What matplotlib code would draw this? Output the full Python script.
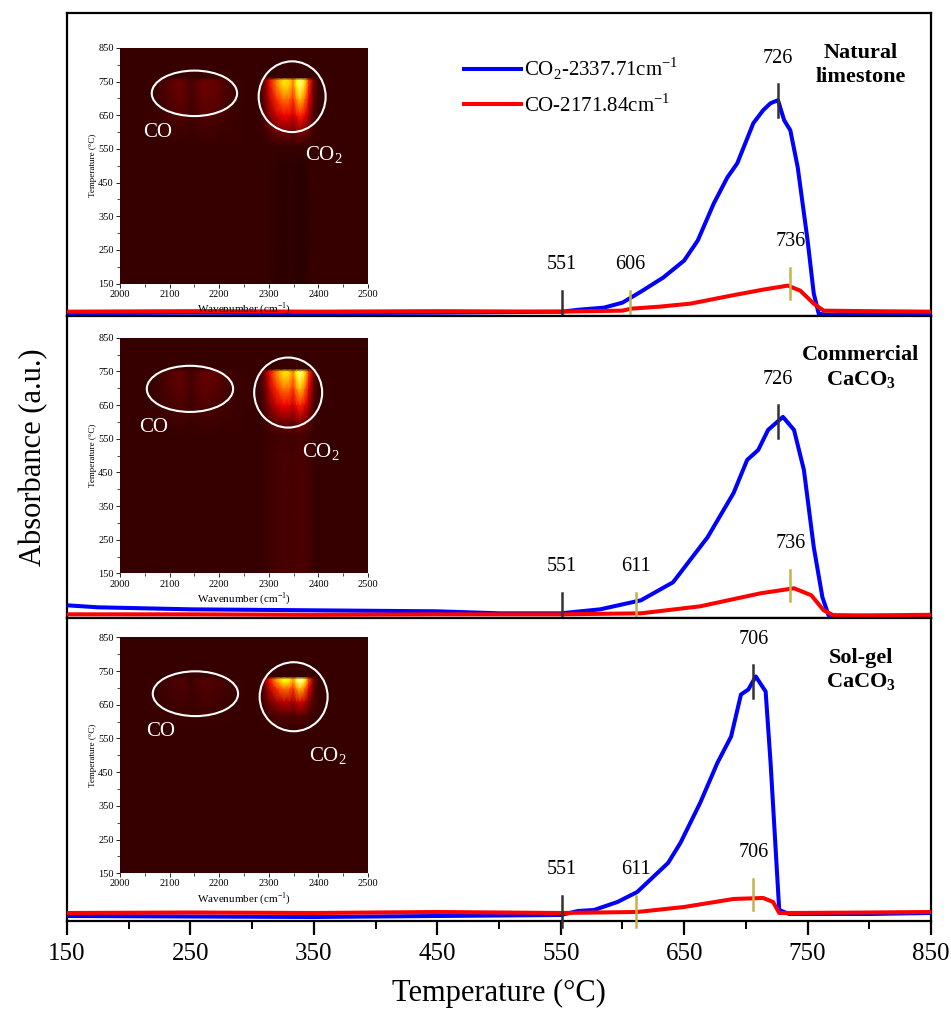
import numpy as np
import matplotlib
matplotlib.use("Agg")
import matplotlib.pyplot as plt
from matplotlib.patches import Ellipse

plt.rcParams['font.family'] = ['Liberation Serif', 'DejaVu Serif']
plt.rcParams['mathtext.fontset'] = 'custom'
plt.rcParams['mathtext.rm'] = 'Liberation Serif'
plt.rcParams['mathtext.bf'] = 'Liberation Serif:bold'

# ---- TG-FTIR gas release curves (a.u.) ----
# Natural limestone
T_co2_nat = [150, 250, 350, 450, 551, 565, 585, 600, 615, 633, 650, 661, 674, 685, 693, 706, 714, 720,
             726, 731, 736, 742, 750, 755, 759, 765, 800, 850]
A_co2_nat = [0.025, 0.03, 0.025, 0.03, 0.04, 0.06, 0.08, 0.13, 0.24, 0.38, 0.55, 0.75, 1.12, 1.38, 1.52, 1.92,
             2.05, 2.12, 2.15, 1.95, 1.85, 1.48, 0.75, 0.22, 0.02, 0.01, 0.02, 0.02]
T_co_nat = [150, 250, 350, 450, 550, 600, 607, 630, 655, 688, 714, 734, 744, 755, 763, 800, 850]
A_co_nat = [0.04, 0.045, 0.04, 0.045, 0.04, 0.05, 0.07, 0.09, 0.12, 0.20, 0.26, 0.30, 0.25, 0.12, 0.05,
            0.045, 0.04]

# Commercial CaCO3
T_co2_com = [150, 175, 250, 350, 450, 501, 550, 582, 615, 641, 669, 690, 701, 710, 718, 730, 739, 747,
             755, 762, 767, 800, 850]
A_co2_com = [0.13, 0.11, 0.09, 0.08, 0.07, 0.05, 0.05, 0.09, 0.18, 0.36, 0.81, 1.25, 1.58, 1.68, 1.88,
             2.01, 1.88, 1.48, 0.71, 0.21, 0.03, 0.02, 0.02]
T_co_com = [150, 250, 350, 450, 550, 615, 663, 712, 739, 753, 763, 771, 800, 850]
A_co_com = [0.04, 0.04, 0.035, 0.04, 0.04, 0.05, 0.12, 0.25, 0.30, 0.23, 0.08, 0.03, 0.03, 0.035]

# Sol-gel CaCO3
T_co2_sol = [150, 250, 350, 450, 550, 564, 577, 596, 612, 637, 647, 663, 677, 688, 696, 702, 708, 716,
             720, 724, 727, 735, 800, 850]
A_co2_sol = [0.05, 0.045, 0.04, 0.05, 0.06, 0.10, 0.11, 0.19, 0.29, 0.58, 0.78, 1.18, 1.58, 1.84, 2.26,
             2.31, 2.44, 2.29, 1.58, 0.74, 0.11, 0.07, 0.07, 0.08]
T_co_sol = [150, 250, 350, 450, 550, 612, 650, 690, 714, 722, 727, 735, 800, 850]
A_co_sol = [0.08, 0.085, 0.08, 0.09, 0.08, 0.09, 0.14, 0.22, 0.23, 0.19, 0.08, 0.08, 0.085, 0.09]

# characteristic temperatures (onset, CO2 start, CO2 peak, CO peak)
onset = [551, 551, 551]
co2_start = [606, 611, 611]
co2_peak = [726, 726, 706]
co_peak = [736, 736, 706]
sample_names = ['Natural\nlimestone', 'Commercial\nCaCO$_\\mathbf{3}$', 'Sol-gel\nCaCO$_\\mathbf{3}$']

# ---- 2D FTIR maps (inset) ----
wn = [2000, 2050, 2075, 2100, 2120, 2135, 2143, 2150, 2170, 2190, 2210, 2235, 2260, 2280, 2290, 2300,
      2315, 2330, 2342, 2349, 2356, 2363, 2372, 2380, 2390, 2400, 2430, 2500]
co2_band = [0, 0, 0, 0, 0, 0, 0, 0, 0, 0, 0, 0, 0, 0, 0.08, 0.3, 0.6, 0.8, 0.75, 0.6, 0.85, 1.0, 0.8,
            0.45, 0.1, 0, 0, 0]
co_band = [0, 0, 0.1, 0.55, 0.9, 0.6, 0.2, 0.5, 1.0, 0.85, 0.4, 0.05, 0, 0, 0, 0, 0, 0, 0, 0, 0, 0,
           0, 0, 0, 0, 0, 0]
map_T = [[150, 500, 560, 600, 650, 700, 740, 755, 762, 850],
         [150, 500, 560, 600, 650, 700, 740, 750, 758, 850],
         [150, 500, 580, 620, 660, 700, 720, 727, 734, 850]]
map_co2 = [[-0.02, -0.02, 0.0, 0.1, 0.35, 0.6, 0.8, 0.8, 0.0, 0.0],
           [0.03, 0.03, 0.02, 0.1, 0.35, 0.6, 0.8, 0.8, 0.0, 0.0],
           [0.0, 0.0, 0.0, 0.05, 0.25, 0.6, 0.85, 0.85, 0.0, 0.0]]
map_co = [[0, 0, 0, 0.01, 0.04, 0.07, 0.08, 0.07, 0, 0],
          [0, 0, 0, 0.01, 0.035, 0.06, 0.07, 0.06, 0, 0],
          [0, 0, 0, 0.005, 0.02, 0.035, 0.04, 0.035, 0, 0]]
map_bg = 0.07

ellipses = [[(2150, 715, 172, 135), (2347, 705, 135, 210)],
            [(2141, 698, 174, 137), (2339, 687, 137, 208)],
            [(2152, 683, 172, 133), (2350, 674, 137, 205)]]
gas_label_pos = [[(2075, 600), (2410, 532)],
                 [(2068, 583), (2405, 509)],
                 [(2082, 571), (2420, 497)]]

curves = [(T_co2_nat, A_co2_nat, T_co_nat, A_co_nat),
          (T_co2_com, A_co2_com, T_co_com, A_co_com),
          (T_co2_sol, A_co2_sol, T_co_sol, A_co_sol)]

fig, axes = plt.subplots(3, 1, figsize=(9.51, 10.16), dpi=100, sharex=True)
fig.subplots_adjust(left=0.0705, right=0.979, top=0.9872, bottom=0.0935, hspace=0)

# inset placement inside each panel (fraction of panel height)
inset_bottom = [0.106, 0.1485, 0.158]

olive = '#c2b34a'
for i, ax in enumerate(axes):
    tb, ab, tr, ar = curves[i]
    ax.plot(tb, ab, color='#0000ff', lw=2.9, label='CO$_\\mathrm{2}$-2337.71cm$^\\mathrm{-1}$', zorder=3)
    ax.plot(tr, ar, color='#ff0000', lw=2.9, label='CO-2171.84cm$^\\mathrm{-1}$', zorder=4)
    ax.set_xlim(150, 850)
    ax.set_ylim(0, 3.02)
    ax.set_yticks([])
    for s in ax.spines.values():
        s.set_linewidth(1.6)

    # vertical markers + labels
    for t in (onset[i], co2_start[i]):
        c = '#333333' if t == onset[i] else olive
        ax.plot([t, t], [-0.06, 0.25], color=c, lw=1.8, clip_on=False, zorder=5)
        ax.text(t, 0.42, str(t), ha='center', va='bottom', fontsize=14.5)
    yb = np.interp(co2_peak[i], tb, ab)
    ax.plot([co2_peak[i]] * 2, [yb - 0.17, yb + 0.16], color='#333333', lw=1.8, zorder=5)
    ax.text(co2_peak[i], yb + 0.32, str(co2_peak[i]), ha='center', va='bottom', fontsize=14.5)
    yr = np.interp(co_peak[i], tr, ar)
    ax.plot([co_peak[i]] * 2, [yr - 0.12, yr + 0.19], color=olive, lw=1.8, zorder=5)
    ax.text(co_peak[i], yr + 0.36, str(co_peak[i]), ha='center', va='bottom', fontsize=14.5)

    ax.text(793, 2.5, sample_names[i], ha='center', va='center', fontsize=16, fontweight='bold',
            linespacing=1.25)

    # inset map
    pos = ax.get_position()
    ins = fig.add_axes([0.1262, pos.y0 + pos.height * inset_bottom[i], 0.2608, 0.232])
    W, Tg = np.meshgrid(wn, map_T[i])
    Z = map_bg + np.outer(map_co2[i], co2_band) + np.outer(map_co[i], co_band)
    ins.pcolormesh(W, Tg, Z, shading='gouraud', cmap='hot', vmin=0, vmax=1)
    ins.set_xlim(2000, 2500)
    ins.set_ylim(150, 850)
    ins.set_xticks(range(2000, 2501, 100))
    ins.set_xticks(range(2050, 2500, 100), minor=True)
    ins.set_yticks(range(150, 851, 100))
    ins.set_yticks(range(200, 850, 100), minor=True)
    ins.tick_params(labelsize=7.5, length=3, width=0.6, pad=1.5)
    ins.tick_params(which='minor', length=2, width=0.5)
    ins.set_xlabel('Wavenumber (cm$^\\mathrm{-1}$)', fontsize=8, labelpad=1)
    ins.set_ylabel('Temperature (°C)', fontsize=6.5, labelpad=1)
    for s in ins.spines.values():
        s.set_visible(False)
    for (cx, cy, w, h) in ellipses[i]:
        ins.add_patch(Ellipse((cx, cy), w, h, fill=False, ec='white', lw=1.5))
    (x1, y1), (x2, y2) = gas_label_pos[i]
    ins.text(x1, y1, 'CO', color='white', fontsize=15, ha='center', va='center')
    ins.text(x2, y2, 'CO$_\\mathrm{2}$', color='white', fontsize=15, ha='center', va='center')

axes[0].legend(loc='upper left', bbox_to_anchor=(0.45, 0.885), frameon=False, fontsize=15,
               handlelength=2.75, handletextpad=0.1, labelspacing=0.55, borderaxespad=0)

ax = axes[2]
ax.set_xticks(range(150, 851, 100))
ax.set_xticks(range(200, 850, 100), minor=True)
ax.tick_params(axis='x', direction='out', length=10, width=1.6, labelsize=18, pad=6)
ax.tick_params(axis='x', which='minor', direction='out', length=6, width=1.4)
for a in axes[:2]:
    a.tick_params(axis='x', which='both', bottom=False)
ax.set_xlabel('Temperature (°C)', fontsize=22, labelpad=10)
fig.text(0.035, 0.55, 'Absorbance (a.u.)', rotation=90, fontsize=22, ha='center', va='center')

fig.savefig('out.png', dpi=100)
